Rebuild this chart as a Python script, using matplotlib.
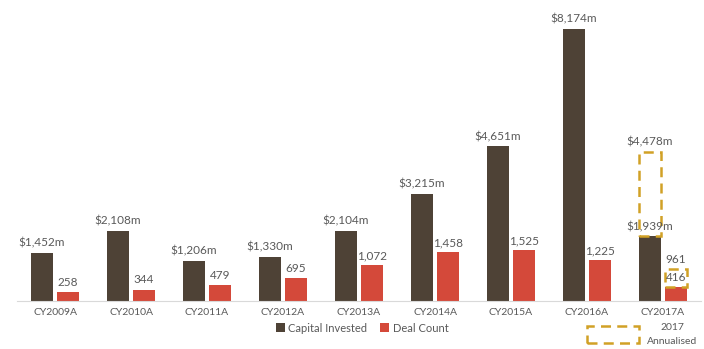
import numpy as np
import matplotlib
matplotlib.use("Agg")
import matplotlib.pyplot as plt
from matplotlib.patches import Rectangle

years = ['CY2009A', 'CY2010A', 'CY2011A', 'CY2012A', 'CY2013A',
         'CY2014A', 'CY2015A', 'CY2016A', 'CY2017A']
capital = [1452, 2108, 1206, 1330, 2104, 3215, 4651, 8174, 1939]
deals = [258, 344, 479, 695, 1072, 1458, 1525, 1225, 416]
capital_annualised = 4478
deals_annualised = 961

DARK = '#4E4236'
RED = '#D4493A'
GOLD = '#D1A126'
TXT = '#595959'

plt.rcParams['font.family'] = ['Lato', 'DejaVu Sans']

fig = plt.figure(figsize=(7.04, 3.49), dpi=100)
ax = fig.add_axes([17 / 704, 48 / 349, 684 / 704, 291 / 349])

x = np.arange(len(years))
w = 0.29
off = 0.17
ax.bar(x - off, capital, w, color=DARK, label='Capital Invested')
ax.bar(x + off, deals, w, color=RED, label='Deal Count')

# value labels
for i in range(len(years)):
    ax.annotate(f'${capital[i]:,}m', (x[i] - off, capital[i]), xytext=(0, 3),
                textcoords='offset points', ha='center', va='bottom',
                fontsize=8.5, color=TXT)
    ax.annotate(f'{deals[i]:,}', (x[i] + off, deals[i]), xytext=(0, 3),
                textcoords='offset points', ha='center', va='bottom',
                fontsize=8.5, color=TXT)

# 2017 annualised boxes
last = len(years) - 1
ax.add_patch(Rectangle((x[last] - off - w / 2, capital[last]), w,
                       capital_annualised - capital[last], fill=False,
                       edgecolor=GOLD, lw=1.8, ls=(0, (4, 2.5))))
ax.add_patch(Rectangle((x[last] + off - w / 2, deals[last]), w,
                       deals_annualised - deals[last], fill=False,
                       edgecolor=GOLD, lw=1.8, ls=(0, (4, 2.5))))
ax.annotate(f'${capital_annualised:,}m', (x[last] - off, capital_annualised),
            xytext=(0, 3), textcoords='offset points', ha='center', va='bottom',
            fontsize=8.5, color=TXT)
ax.annotate(f'{deals_annualised:,}', (x[last] + off, deals_annualised),
            xytext=(0, 3), textcoords='offset points', ha='center', va='bottom',
            fontsize=8.5, color=TXT)

ax.set_xlim(-0.5, len(years) - 0.5)
ax.set_ylim(0, 8740)
ax.set_xticks(x)
ax.set_xticklabels(years, fontsize=7.5, color=TXT)
ax.tick_params(axis='x', length=0, pad=5)
ax.set_yticks([])
for s in ['top', 'right', 'left']:
    ax.spines[s].set_visible(False)
ax.spines['bottom'].set_color('#D9D9D9')

fig.legend(*ax.get_legend_handles_labels(), loc='center',
           bbox_to_anchor=(362 / 704, 21 / 349), ncol=2, frameon=False,
           fontsize=8, labelcolor=TXT, handlelength=0.8, handleheight=0.8,
           handletextpad=0.3, columnspacing=1.2)

# annualised legend
fig.add_artist(Rectangle((587 / 704, 6 / 349), 52 / 704, 17 / 349, fill=False,
                         edgecolor=GOLD, lw=1.8, ls=(0, (4, 2.5)),
                         transform=fig.transFigure))
fig.text(672 / 704, 21 / 349, '2017', ha='center', va='center', fontsize=7.5, color=TXT)
fig.text(672 / 704, 8 / 349, 'Annualised', ha='center', va='center', fontsize=7.5, color=TXT)

fig.savefig('out.png', dpi=100)
